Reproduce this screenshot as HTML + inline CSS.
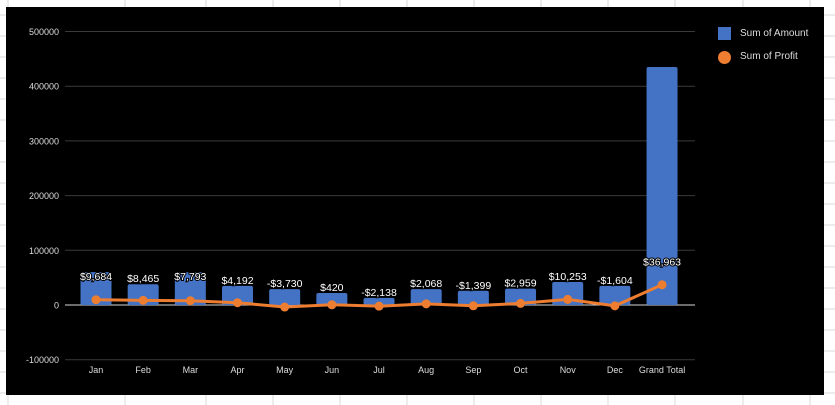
<!DOCTYPE html>
<html><head><meta charset="utf-8"><style>
body{margin:0;width:835px;height:405px;overflow:hidden;background:#fff;font-family:"Liberation Sans",sans-serif}
svg{display:block}
</style></head><body>
<svg id="c" width="835" height="405">
<g id="sheet"></g>
<rect x="6" y="7" width="818" height="388" fill="#000"/>
<g id="grid"></g>
<g id="bars"></g>
<g id="line"></g>
<g id="labels"></g>
<g id="xaxis"></g>
<g>
<rect x="718" y="27" width="13" height="13" fill="#4472c4"/>
<text x="740" y="36" fill="#ddd" font-size="10">Sum of Amount</text>
<circle cx="724.5" cy="57.5" r="6.5" fill="#ed7d31"/>
<text x="740" y="59" fill="#ddd" font-size="10">Sum of Profit</text>
</g>
</svg>
<script>
const categories=["Jan","Feb","Mar","Apr","May","Jun","Jul","Aug","Sep","Oct","Nov","Dec","Grand Total"];
const amounts=[60000,38000,60000,35000,29000,22000,13000,29000,26000,30000,42000,35000,435000];
const profits=[9684,8465,7793,4192,-3730,420,-2138,2068,-1399,2959,10253,-1604,36963];
const profitLabels=["$9,684","$8,465","$7,793","$4,192","-$3,730","$420","-$2,138","$2,068","-$1,399","$2,959","$10,253","-$1,604","$36,963"];
const yTicks=[-100000,0,100000,200000,300000,400000,500000];
const NS="http://www.w3.org/2000/svg";
function mk(t,a,p){const e=document.createElementNS(NS,t);for(const k in a)e.setAttribute(k,a[k]);p.appendChild(e);return e;}
const y=v=>305-v*0.000547;
const x=i=>96+i*47.17;
const sheet=document.getElementById('sheet');
for(let yy=15;yy<405;yy+=21){const l=mk('line',{x1:0,x2:835,y1:yy,y2:yy,stroke:'#d9d9d9'},sheet);

}
[8,125,206,273,340,407,474,541,608,675,743,810].forEach(xx=>{const l=mk('line',{x1:xx,x2:xx,y1:0,y2:405,stroke:'#d9d9d9'},sheet);

});
const grid=document.getElementById('grid');
yTicks.forEach(v=>{const l=mk('line',{x1:65,x2:695,y1:y(v),y2:y(v),stroke:v===0?'#d9d9d9':'#3a3a3a','stroke-width':1},grid);


const t=mk('text',{x:59,y:y(v)+3.5,'text-anchor':'end',fill:'#ddd','font-size':9},grid);t.textContent=v;

});
const bars=document.getElementById('bars'),labels=document.getElementById('labels'),xa=document.getElementById('xaxis');
categories.forEach((c,i)=>{const b=mk('rect',{x:x(i)-15.5,y:y(amounts[i]),width:31,height:y(0)-y(amounts[i]),fill:'#4472c4',rx:2},bars);


const a=amounts[i];
const ly=a>50000?Math.max(y(a)+8,y(72000)):y(a)-2;
const t=mk('text',{x:x(i),y:ly,'text-anchor':'middle',fill:'#fff','font-size':10.5,stroke:'#000','stroke-width':2,'paint-order':'stroke'},labels);t.textContent=profitLabels[i];


const xl=mk('text',{x:x(i),y:373,'text-anchor':'middle',fill:'#ddd','font-size':9},xa);xl.textContent=c;

});
const lg=document.getElementById('line');
const pl=mk('polyline',{points:profits.map((p,i)=>x(i)+','+y(p)).join(' '),fill:'none',stroke:'#ed7d31','stroke-width':3},lg);


profits.forEach((p,i)=>{const d=mk('circle',{cx:x(i),cy:y(p),r:4.5,fill:'#ed7d31'},lg);

});
</script>
</body></html>
